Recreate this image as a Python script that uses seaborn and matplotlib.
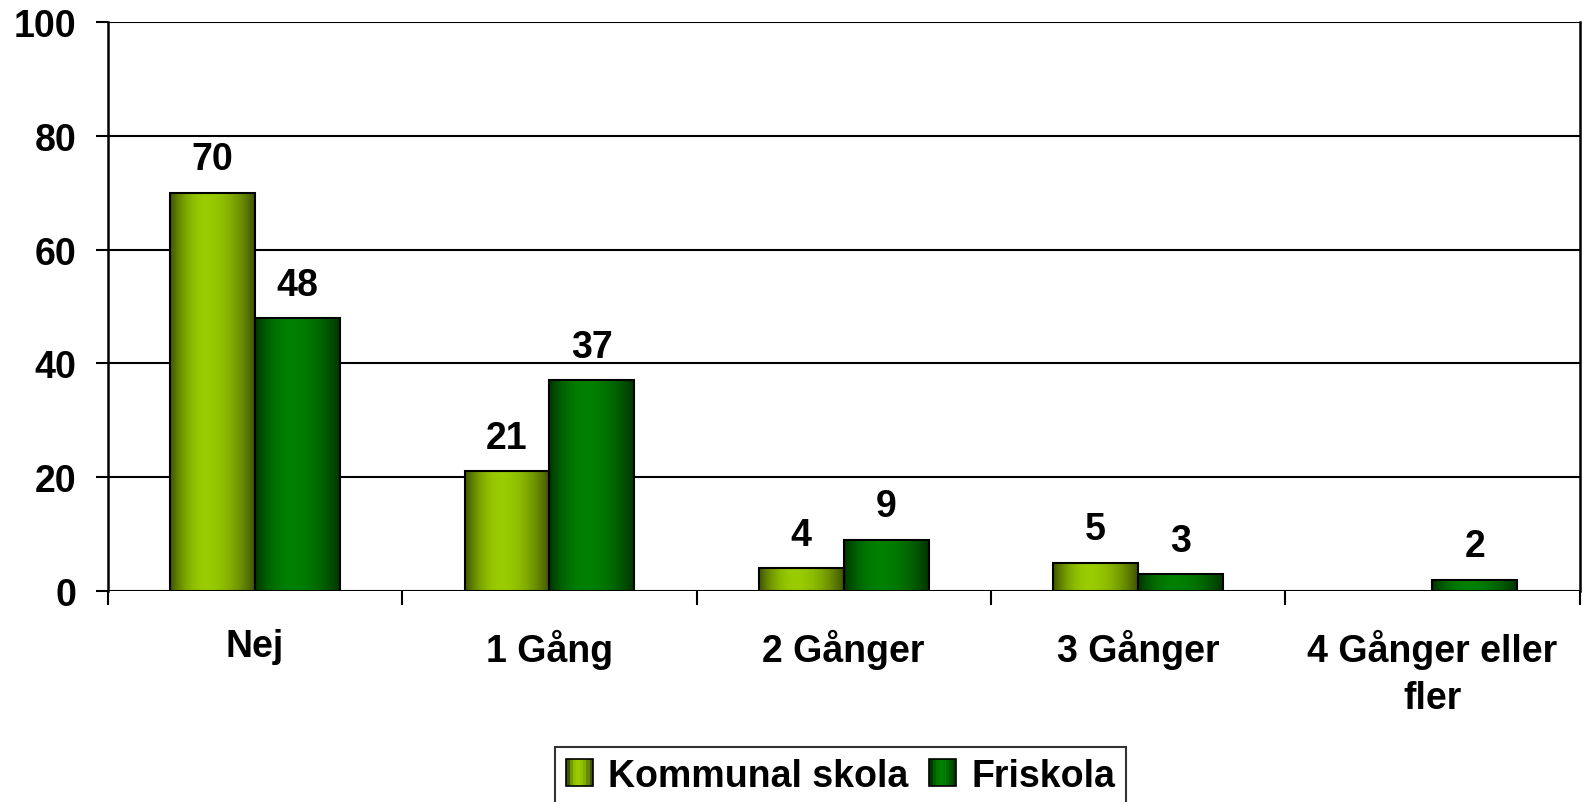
import numpy as np
import pandas as pd
import matplotlib
matplotlib.use("Agg")
import matplotlib.pyplot as plt
import seaborn as sns
from matplotlib.colors import to_rgb
from matplotlib.patches import Rectangle
from matplotlib.legend_handler import HandlerPatch

categories = ["Nej", "1 Gång", "2 Gånger", "3 Gånger", "4 Gånger eller\nfler"]
series = ["Kommunal skola", "Friskola"]
kommunal = [70, 21, 4, 5, 0]
friskola = [48, 37, 9, 3, 2]
colors = {"Kommunal skola": "#99CC00", "Friskola": "#008000"}

df = pd.DataFrame({
    "Kategori": categories * 2,
    "Skola": [series[0]] * 5 + [series[1]] * 5,
    "Andel": kommunal + friskola,
})

sns.set_theme(style="white")
plt.rcParams["font.family"] = ["Liberation Sans", "DejaVu Sans"]
plt.rcParams["font.weight"] = "bold"
plt.rcParams["text.color"] = "black"

FS = 27


def shade(color, n=64):
    # cylinder-like horizontal shading: dark edges, bright a bit left of centre
    base = np.array(to_rgb(color))
    t = np.linspace(0, 1, n)
    peak = 0.42
    d = np.where(t < peak, (t - peak) / peak, (t - peak) / (1 - peak))
    k = np.clip(1 - d ** 2, 0, 1)
    f = 0.42 + 0.58 * k
    return (base[None, :] * f[:, None])[None, :, :]


fig = plt.figure(figsize=(15.83, 8.03), dpi=100)
ax = fig.add_axes([0.0682, 0.2628, 0.9296, 0.7086])

sns.barplot(data=df, x="Kategori", y="Andel", hue="Skola", palette=colors,
            width=0.577, saturation=1, edgecolor="black", linewidth=1.5,
            legend=False, ax=ax)

ax.set_ylim(0, 100)
ax.set_xlim(-0.5, 4.5)

# gradient fill clipped to each bar
for bars, name in zip(ax.containers, series):
    grad = shade(colors[name])
    for p in bars:
        h = p.get_height()
        if h <= 0:
            p.set_visible(False)
            continue
        x0, w = p.get_x(), p.get_width()
        im = ax.imshow(grad, extent=[x0, x0 + w, 0, h], aspect="auto",
                       interpolation="bilinear", zorder=p.get_zorder())
        im.set_clip_path(p)
        p.set_facecolor("none")
        p.set_zorder(p.get_zorder() + 0.1)
    labels = [f"{v:.0f}" if v > 0 else "" for v in bars.datavalues]
    ax.bar_label(bars, labels=labels, padding=11, fontsize=FS,
                 fontweight="bold", color="black")

ax.set_xlim(-0.5, 4.5)
ax.set_ylim(0, 100)
ax.set_yticks(range(0, 101, 20))
ax.yaxis.grid(True, color="black", linewidth=1.5)
ax.set_axisbelow(True)
ax.set_xlabel("")
ax.set_ylabel("")

for s in ["top", "bottom"]:
    ax.spines[s].set_visible(False)
for s in ["left", "right"]:
    ax.spines[s].set_color("black")
    ax.spines[s].set_linewidth(1.8)
ax.axhline(0, color="black", linewidth=1.8, zorder=5)

ax.tick_params(axis="y", left=True, length=9, width=1.5, color="black",
               labelsize=FS, labelcolor="black", pad=14)
ax.tick_params(axis="x", which="major", length=0, labelsize=FS,
               labelcolor="black", pad=27)
ax.set_xticks(np.arange(-0.5, 5.0, 1.0), minor=True)
ax.tick_params(axis="x", which="minor", bottom=True, length=10, width=1.5,
               color="black")
for t in ax.get_xticklabels() + ax.get_yticklabels():
    t.set_fontweight("bold")
for t in ax.get_xticklabels():
    t.set_linespacing(1.4)


class GradientHandler(HandlerPatch):
    def create_artists(self, legend, orig_handle, xdescent, ydescent,
                       width, height, fontsize, trans):
        grad = shade(orig_handle.get_facecolor()[:3], n=8)[0]
        side = height
        x0 = -xdescent + (width - side) / 2
        y0 = -ydescent
        arts = []
        n = len(grad)
        for i, c in enumerate(grad):
            r = Rectangle((x0 + i * side / n, y0), side / n + 0.3, side,
                          facecolor=c, edgecolor="none", transform=trans)
            arts.append(r)
        arts.append(Rectangle((x0, y0), side, side, facecolor="none",
                              edgecolor="black", linewidth=1.2, transform=trans))
        return arts


handles = [Rectangle((0, 0), 1, 1, facecolor=colors[s]) for s in series]
leg = fig.legend(handles, series, loc="upper center",
                 bbox_to_anchor=(0.531, 0.069), ncol=2, frameon=True,
                 fancybox=False, edgecolor="black",
                 handlelength=0.72, handleheight=0.72, handletextpad=0.4,
                 columnspacing=0.55, borderpad=0.3, borderaxespad=0,
                 handler_map={Rectangle: GradientHandler()},
                 prop={"weight": "bold", "size": FS})
leg.get_frame().set_linewidth(1.5)

fig.savefig("out.png", dpi=100)
